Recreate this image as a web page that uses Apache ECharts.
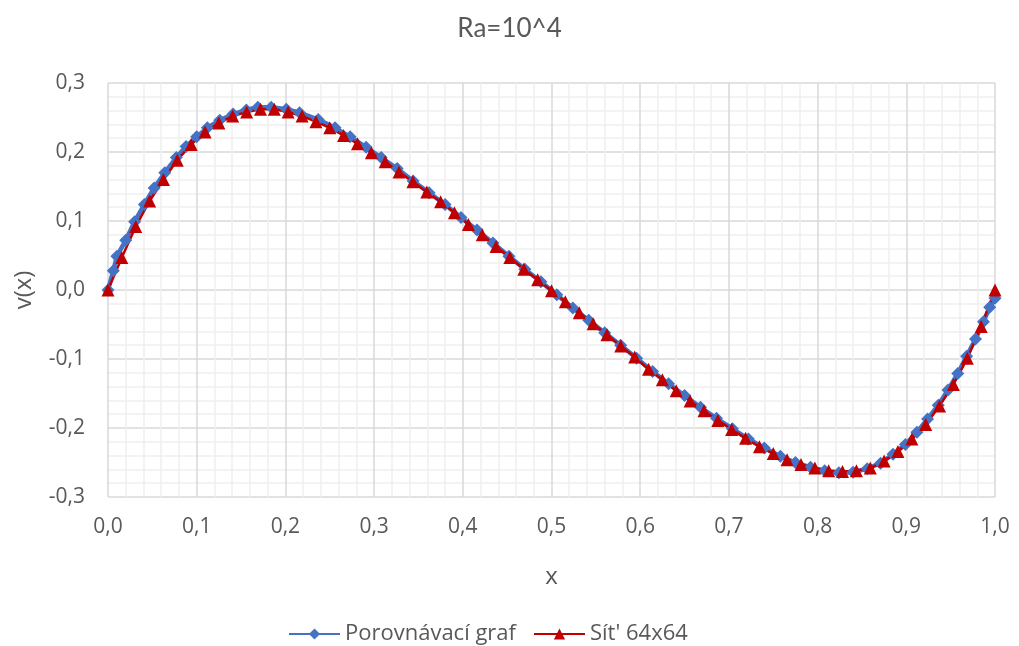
<!DOCTYPE html>
<html>
<head>
<meta charset="utf-8">
<script src="https://cdn.jsdelivr.net/npm/echarts@6/dist/echarts.min.js"></script>
<style>
  html, body { margin: 0; padding: 0; background: #fff; }
  #chart { width: 1019px; height: 646px; }
</style>
</head>
<body>
<div id="chart"></div>
<script>
// Porovnávací graf (reference values)
var refX = [0, 0.006, 0.010, 0.020, 0.030, 0.041, 0.052, 0.064, 0.077, 0.088, 0.100, 0.112, 0.126, 0.141, 0.156, 0.169, 0.184,
            0.201, 0.216, 0.237, 0.256, 0.273, 0.291, 0.308, 0.326, 0.344, 0.362, 0.380, 0.398, 0.416, 0.434, 0.452, 0.470,
            0.488, 0.506, 0.524, 0.542, 0.560, 0.578, 0.596, 0.614, 0.632, 0.650, 0.668, 0.686, 0.704, 0.722, 0.740, 0.758,
            0.775, 0.792, 0.808, 0.824, 0.840, 0.856, 0.871, 0.885, 0.899, 0.912, 0.924, 0.936, 0.947, 0.958, 0.968, 0.978,
            0.987, 0.994, 1.000];
var refV = [0, 0.028, 0.049, 0.072, 0.099, 0.124, 0.148, 0.170, 0.192, 0.208, 0.222, 0.235, 0.246, 0.255, 0.261, 0.265, 0.265,
            0.262, 0.257, 0.247, 0.235, 0.222, 0.207, 0.192, 0.176, 0.158, 0.141, 0.124, 0.105, 0.087, 0.068, 0.049, 0.030,
            0.012, -0.007, -0.026, -0.044, -0.062, -0.080, -0.099, -0.118, -0.136, -0.153, -0.170, -0.186, -0.201, -0.216, -0.229, -0.241,
            -0.250, -0.257, -0.262, -0.265, -0.264, -0.259, -0.251, -0.238, -0.224, -0.206, -0.187, -0.167, -0.145, -0.121, -0.096, -0.071,
            -0.046, -0.025, -0.012];

// Sít' 64x64
var gridX = [0, 0.0156, 0.0313, 0.0469, 0.0625, 0.0781, 0.0938, 0.1094, 0.125, 0.1406, 0.1563, 0.1719, 0.1875, 0.2031, 0.2188, 0.2344,
             0.25, 0.2656, 0.2813, 0.2969, 0.3125, 0.3281, 0.3438, 0.3594, 0.375, 0.3906, 0.4063, 0.4219, 0.4375, 0.4531, 0.4688, 0.4844,
             0.5, 0.5156, 0.5313, 0.5469, 0.5625, 0.5781, 0.5938, 0.6094, 0.625, 0.6406, 0.6563, 0.6719, 0.6875, 0.7031, 0.7188, 0.7344,
             0.75, 0.7656, 0.7813, 0.7969, 0.8125, 0.8281, 0.8438, 0.8594, 0.875, 0.8906, 0.9063, 0.9219, 0.9375, 0.9531, 0.9688, 0.9844, 1];
var gridV = [0, 0.047, 0.092, 0.129, 0.160, 0.188, 0.211, 0.229, 0.242, 0.252, 0.258, 0.262, 0.262, 0.258, 0.252, 0.244,
             0.235, 0.224, 0.212, 0.199, 0.186, 0.171, 0.157, 0.142, 0.128, 0.112, 0.095, 0.080, 0.063, 0.047, 0.030, 0.015,
             -0.001, -0.017, -0.033, -0.049, -0.065, -0.081, -0.097, -0.115, -0.130, -0.146, -0.161, -0.175, -0.189, -0.202, -0.215, -0.227,
             -0.237, -0.246, -0.253, -0.258, -0.262, -0.263, -0.262, -0.258, -0.248, -0.234, -0.216, -0.195, -0.168, -0.137, -0.099, -0.053, 0];

var seriesNames = ['Porovnávací graf', "Sít' 64x64"];

function pairs(xs, ys) {
  var out = [];
  for (var i = 0; i < xs.length; i++) out.push([xs[i], ys[i]]);
  return out;
}
function comma(v) { return v.toFixed(1).replace('.', ','); }

var font = '"Open Sans", Lato, sans-serif';
var grey = '#595959';

var chart = echarts.init(document.getElementById('chart'));
chart.setOption({
  animation: false,
  textStyle: { fontFamily: font },
  title: {
    text: 'Ra=10^4', left: 'center', top: 11,
    textStyle: { fontSize: 26, fontWeight: 'normal', color: grey, fontFamily: 'Lato, sans-serif' }
  },
  legend: {
    data: seriesNames, left: 283, top: 618,
    itemWidth: 51, itemHeight: 14, itemGap: 17,
    textStyle: { fontSize: 22, color: grey, fontFamily: font }
  },
  grid: { left: 108, right: 24, top: 83, bottom: 149 },
  xAxis: {
    type: 'value', min: 0, max: 1, interval: 0.1,
    name: 'x', nameLocation: 'middle', nameGap: 68,
    nameTextStyle: { fontSize: 24, color: grey, fontFamily: font },
    axisLine: { show: false }, axisTick: { show: false },
    axisLabel: { formatter: comma, fontSize: 21, color: grey, margin: 20, fontFamily: font },
    splitLine: { lineStyle: { color: '#d9d9d9', width: 1.5 } },
    minorTick: { show: false, splitNumber: 5 },
    minorSplitLine: { show: true, lineStyle: { color: '#efefef', width: 1.5 } }
  },
  yAxis: {
    type: 'value', min: -0.3, max: 0.3, interval: 0.1,
    name: 'v(x)', nameLocation: 'middle', nameGap: 72, nameRotate: 90,
    nameTextStyle: { fontSize: 24, color: grey, fontFamily: font },
    axisLine: { show: false }, axisTick: { show: false },
    axisLabel: { formatter: comma, fontSize: 21, color: grey, margin: 23, fontFamily: font },
    splitLine: { lineStyle: { color: '#d9d9d9', width: 1.5 } },
    minorTick: { show: false, splitNumber: 5 },
    minorSplitLine: { show: true, lineStyle: { color: '#efefef', width: 1.5 } }
  },
  series: [
    {
      name: seriesNames[0], type: 'line', data: pairs(refX, refV),
      symbol: 'diamond', symbolSize: 13,
      lineStyle: { color: '#4472C4', width: 4.5 },
      itemStyle: { color: '#4472C4' }
    },
    {
      name: seriesNames[1], type: 'line', data: pairs(gridX, gridV),
      symbol: 'triangle', symbolSize: 13,
      lineStyle: { color: '#C00000', width: 2.5 },
      itemStyle: { color: '#C00000' }
    }
  ]
});
</script>
</body>
</html>
